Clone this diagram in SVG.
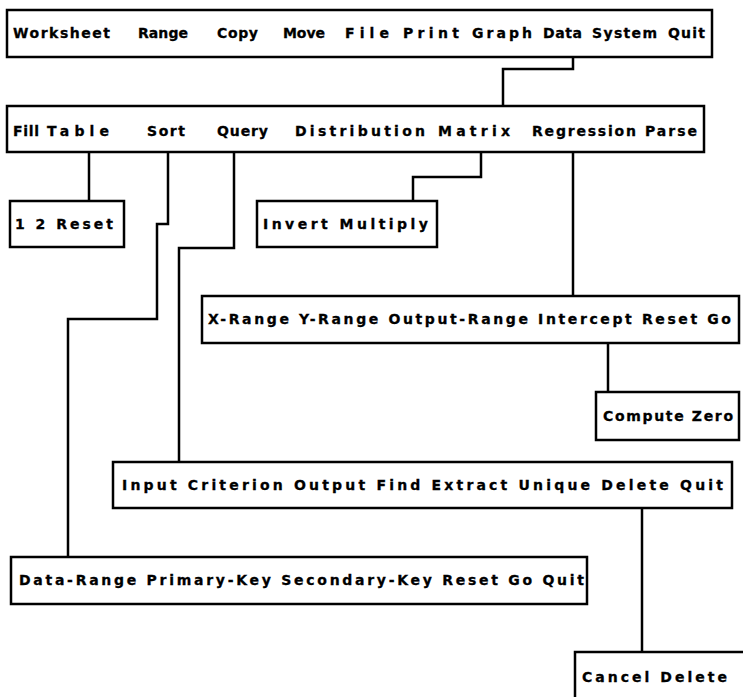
<svg xmlns="http://www.w3.org/2000/svg" width="743" height="697" viewBox="0 0 743 697">
<style>
.box{fill:#fff;stroke:#000;stroke-width:2.5}
.lbl{font-family:"DejaVu Sans","Liberation Sans",sans-serif;font-weight:bold;font-size:14px;fill:#000;stroke:#000;stroke-width:0.3}
.con{fill:none;stroke:#000;stroke-width:2.5;stroke-linejoin:miter}
</style>
<rect width="743" height="697" fill="#fff"/>
<g id="connectors">
<polyline class="con" points="573,57 573,69 503,69 503,106"/>
<polyline class="con" points="89,152 89,201"/>
<polyline class="con" points="168,152 168,224 157,224 157,319 68,319 68,557"/>
<polyline class="con" points="234,152 234,248 179,248 179,462"/>
<polyline class="con" points="481,152 481,177 413,177 413,201"/>
<polyline class="con" points="573,152 573,296"/>
<polyline class="con" points="608,343 608,392"/>
<polyline class="con" points="642,508 642,652"/>
</g>
<g id="main-menu">
<rect class="box" x="7" y="10" width="705" height="47"/>
<text class="lbl" y="38"><tspan x="13" textLength="97" lengthAdjust="spacing">Worksheet</tspan> <tspan x="138" textLength="50" lengthAdjust="spacing">Range</tspan> <tspan x="217" textLength="41" lengthAdjust="spacing">Copy</tspan> <tspan x="283" textLength="42" lengthAdjust="spacing">Move</tspan> <tspan x="345" textLength="44" lengthAdjust="spacing">File</tspan> <tspan x="403" textLength="56" lengthAdjust="spacing">Print</tspan> <tspan x="472" textLength="60" lengthAdjust="spacing">Graph</tspan> <tspan x="543" textLength="39" lengthAdjust="spacing">Data</tspan> <tspan x="592" textLength="65" lengthAdjust="spacing">System</tspan> <tspan x="668" textLength="37" lengthAdjust="spacing">Quit</tspan></text>
</g>
<g id="data-menu">
<rect class="box" x="7" y="106" width="697" height="46"/>
<text class="lbl" y="136"><tspan x="13" textLength="26" lengthAdjust="spacing">Fill</tspan> <tspan x="47" textLength="62" lengthAdjust="spacing">Table</tspan> <tspan x="147" textLength="38" lengthAdjust="spacing">Sort</tspan> <tspan x="217" textLength="51" lengthAdjust="spacing">Query</tspan> <tspan x="295" textLength="130" lengthAdjust="spacing">Distribution</tspan> <tspan x="438" textLength="72" lengthAdjust="spacing">Matrix</tspan> <tspan x="532" textLength="104" lengthAdjust="spacing">Regression</tspan> <tspan x="645" textLength="52" lengthAdjust="spacing">Parse</tspan></text>
</g>
<g id="fill-menu">
<rect class="box" x="10" y="201" width="114" height="46"/>
<text class="lbl" x="15" y="229" textLength="98" lengthAdjust="spacing">1 2 Reset</text>
</g>
<g id="matrix-menu">
<rect class="box" x="257" y="201" width="180" height="46"/>
<text class="lbl" x="263" y="229" textLength="165" lengthAdjust="spacing">Invert Multiply</text>
</g>
<g id="regression-menu">
<rect class="box" x="202" y="296" width="537" height="47"/>
<text class="lbl" x="208" y="324" textLength="523" lengthAdjust="spacing">X-Range Y-Range Output-Range Intercept Reset Go</text>
</g>
<g id="intercept-menu">
<rect class="box" x="596" y="392" width="143" height="48"/>
<text class="lbl" x="603" y="421" textLength="130" lengthAdjust="spacing">Compute Zero</text>
</g>
<g id="query-menu">
<rect class="box" x="113" y="462" width="619" height="46"/>
<text class="lbl" x="122" y="490" textLength="601" lengthAdjust="spacing">Input Criterion Output Find Extract Unique Delete Quit</text>
</g>
<g id="sort-menu">
<rect class="box" x="11" y="557" width="576" height="47"/>
<text class="lbl" x="19" y="585" textLength="565" lengthAdjust="spacing">Data-Range Primary-Key Secondary-Key Reset Go Quit</text>
</g>
<g id="delete-menu">
<rect class="box" x="575" y="652" width="200" height="80"/>
<text class="lbl" x="582" y="682" textLength="145" lengthAdjust="spacing">Cancel Delete</text>
</g>
</svg>
